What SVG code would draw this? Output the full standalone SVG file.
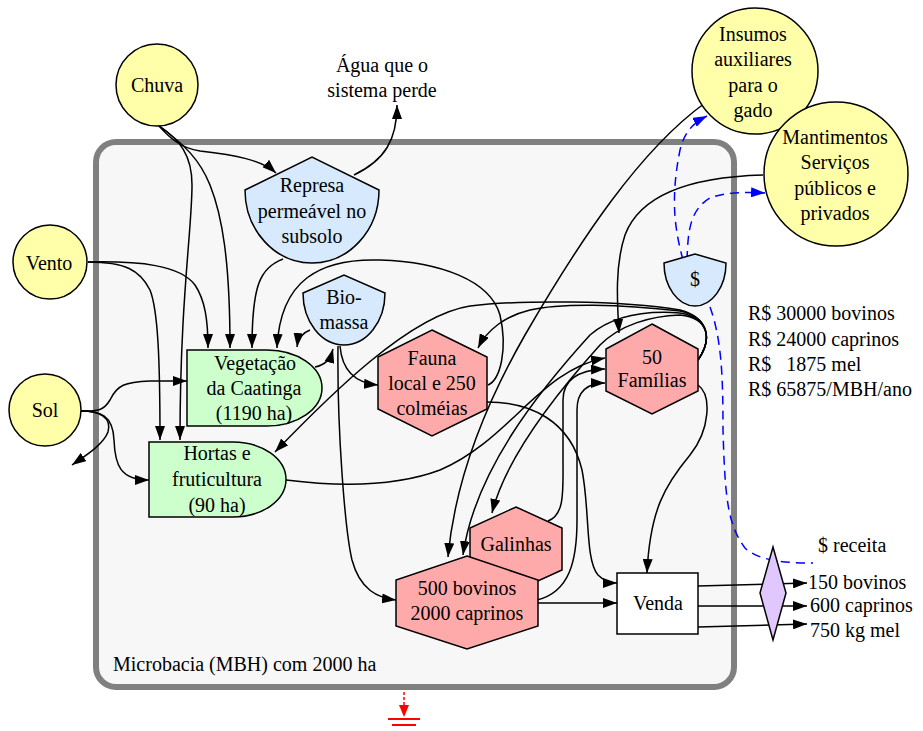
<svg xmlns="http://www.w3.org/2000/svg" width="923" height="731" viewBox="0 0 923 731">
<style>
text{font-family:"Liberation Serif","Times New Roman",serif;font-size:20px;fill:#000}
.c{text-anchor:middle}
.src{fill:#ffffaa;stroke:#000;stroke-width:1.5}
.sto{fill:#d6e9fd;stroke:#000;stroke-width:1.5}
.pro{fill:#ccffcc;stroke:#000;stroke-width:1.5}
.con{fill:#ffaaaa;stroke:#000;stroke-width:1.5}
.e{fill:none;stroke:#000;stroke-width:1.5;marker-end:url(#ah)}
.en{fill:none;stroke:#000;stroke-width:1.5}
.d{fill:none;stroke:#0000ff;stroke-width:1.5;stroke-dasharray:9,6}
</style>
<defs>
<marker id="ah" viewBox="0 0 14 10" refX="14" refY="5" markerWidth="14" markerHeight="10" orient="auto" markerUnits="userSpaceOnUse"><path d="M0,0 L14,5 L0,10 Z" fill="#000"/></marker>
<marker id="ab" viewBox="0 0 14 10" refX="14" refY="5" markerWidth="14" markerHeight="10" orient="auto" markerUnits="userSpaceOnUse"><path d="M0,0 L14,5 L0,10 Z" fill="#0000ff"/></marker>
<marker id="ar" viewBox="0 0 12 10" refX="12" refY="5" markerWidth="12" markerHeight="10" orient="auto" markerUnits="userSpaceOnUse"><path d="M0,0 L12,5 L0,10 Z" fill="#ff0000"/></marker>
</defs>
<rect width="923" height="731" fill="#fff"/>
<g id="frame">
<rect x="96" y="142" width="638" height="545" rx="20" fill="#f7f7f7" stroke="#808080" stroke-width="6"/>
<text x="113" y="671">Microbacia (MBH) com 2000 ha</text>
</g>
<g id="connectors">
<path class="e" d="M158,125 C170,138 180,148 200,151 C235,155 262,160 276,173"/>
<path class="e" d="M158,125 C185,145 200,160 210,185 C222,215 230,260 230,348"/>
<path class="e" d="M158,125 C180,140 192,155 192,185 C192,230 180,300 180,440"/>
<path class="e" d="M88,262 C140,261 180,265 195,285 C205,300 208,320 208,348"/>
<path class="e" d="M88,262 C125,262 140,270 150,290 C158,310 160,360 160,440"/>
<path class="e" d="M81,411 C95,411 103,412 110,400 C117,385 125,382 150,381 L187,381"/>
<path class="e" d="M81,411 C100,411 113,415 114,440 C115,465 120,480 149,480"/>
<path class="e" d="M81,411 C100,411 112,418 108,432 C103,445 85,456 72,465"/>
<path class="e" d="M354,175 C385,160 397,140 397,105"/>
<path class="e" d="M283,259 C260,268 252,285 252,348"/>
<path class="e" d="M310,330 C302,333 298,338 297,347"/>
<path class="e" d="M315,367 C325,365 330,360 333,349"/>
<path class="e" d="M340,346 C342,370 355,383 378,385"/>
<path class="e" d="M338,346 C337,430 345,530 352,560 C360,590 378,598 396,600"/>
<path class="e" d="M488,385 C500,380 508,350 500,315 C490,280 440,262 380,260 C320,258 280,280 277,348"/>
<path class="e" d="M487,402 C530,402 570,420 582,470 C590,510 585,560 598,575 C605,582 612,583 617,583"/>
<path class="e" d="M286,480 C350,488 400,485 440,470 C510,440 540,370 605,358"/>
<path class="e" d="M548,521 C565,515 563,490 563,460 L563,400 C563,378 580,370 605,369"/>
<path class="e" d="M537,600 C570,592 577,560 577,520 L577,410 C577,390 588,383 605,383"/>
<path class="e" d="M538,603 L617,603"/>
<path class="e" d="M698,385 C712,395 710,430 690,455 C665,485 650,510 647,573"/>
<path class="e" d="M698,360 C712,340 710,318 680,310 C620,300 520,300 470,306 C410,315 330,395 275,452"/>
<path class="e" d="M698,360 C712,340 710,318 680,311 C620,304 560,303 530,310 C505,316 487,330 478,348"/>
<path class="e" d="M698,360 C712,340 710,318 680,313 C640,310 610,318 590,335 C540,390 475,470 463,555"/>
<path class="e" d="M698,360 C712,340 710,318 680,315 C650,316 620,325 600,345 C555,395 505,460 492,513"/>
<path class="e" d="M705,103 C640,150 580,240 525,335 C485,405 455,480 448,557"/>
<path class="e" d="M763,175 C690,177 640,195 625,235 C615,265 617,300 619,333"/>
<path class="d" marker-end="url(#ab)" d="M683,260 C675,230 670,200 680,150 C685,130 695,122 707,116"/>
<path class="d" marker-end="url(#ab)" d="M687,260 C688,230 690,210 710,198 C725,192 745,192 765,193"/>
<path class="d" d="M710,307 C722,340 723,380 723,430 C725,500 728,525 745,548 C760,562 790,563 813,563"/>
<path class="e" d="M698,586 L807,583"/>
<path class="e" d="M698,606 L807,606"/>
<path class="e" d="M698,627 L807,624"/>
<path fill="none" stroke="#ff0000" stroke-width="1.5" stroke-dasharray="3,2" marker-end="url(#ar)" d="M404,692 L404,717"/>
</g>
<g id="sink">
<path d="M388,719 L420,719 M392,725 L416,725" stroke="#ff0000" stroke-width="2"/>
</g>
<g id="chuva"><circle class="src" cx="157" cy="85" r="41"/><text class="c" x="157" y="92">Chuva</text></g>
<g id="vento"><circle class="src" cx="50" cy="262" r="37"/><text class="c" x="49" y="270">Vento</text></g>
<g id="sol"><circle class="src" cx="45" cy="410" r="36"/><text class="c" x="45" y="417">Sol</text></g>
<g id="insumos"><circle class="src" cx="755" cy="71" r="63"/>
<text class="c" x="753" y="41">Insumos</text><text class="c" x="753" y="66">auxiliares</text><text class="c" x="753" y="92">para o</text><text class="c" x="753" y="117">gado</text></g>
<g id="mantimentos"><circle class="src" cx="836" cy="174" r="72"/>
<text class="c" x="835" y="144">Mantimentos</text><text class="c" x="835" y="169">Serviços</text><text class="c" x="835" y="195">públicos e</text><text class="c" x="835" y="220">privados</text></g>
<g id="agua"><text class="c" x="382" y="72">Água que o</text><text class="c" x="382" y="97">sistema perde</text></g>
<g id="represa"><path class="sto" d="M245,190 L312,157 L379,190 A67,73 0 0 1 245,190 Z"/>
<text class="c" x="312" y="192">Represa</text><text class="c" x="312" y="218">permeável no</text><text class="c" x="312" y="243">subsolo</text></g>
<g id="biomassa"><path class="sto" d="M303,293 L344,275 L385,293 A41,52 0 0 1 303,293 Z"/>
<text class="c" x="344" y="304">Bio-</text><text class="c" x="344" y="329">massa</text></g>
<g id="dinheiro"><path class="sto" d="M664,263 L695,254 L726,263 A31,43 0 0 1 664,263 Z"/>
<text class="c" x="695" y="286">$</text></g>
<g id="vegetacao"><path class="pro" d="M187,350 L267,350 A55,38 0 0 1 267,426 L187,426 Z"/>
<text class="c" x="255" y="370">Vegetação</text><text class="c" x="254" y="395">da Caatinga</text><text class="c" x="254" y="420">(1190 ha)</text></g>
<g id="hortas"><path class="pro" d="M149,442 L233,442 A53,37.5 0 0 1 233,517 L149,517 Z"/>
<text class="c" x="217" y="460">Hortas e</text><text class="c" x="217" y="486">fruticultura</text><text class="c" x="217" y="512">(90 ha)</text></g>
<g id="fauna"><polygon class="con" points="432,330 487,357 487,409 432,436 378,409 378,357"/>
<text class="c" x="432" y="365">Fauna</text><text class="c" x="432" y="390">local e 250</text><text class="c" x="432" y="415">colméias</text></g>
<g id="familias"><polygon class="con" points="652,324 698,349 698,391 652,414 606,391 606,349"/>
<text class="c" x="652" y="364">50</text><text class="c" x="652" y="387">Famílias</text></g>
<g id="galinhas"><polygon class="con" points="516,507 562,528 562,570 516,591 470,570 470,528"/>
<text class="c" x="516" y="551">Galinhas</text></g>
<g id="bovinos"><polygon class="con" points="467,556 538,580 538,626 467,649 396,626 396,580"/>
<text class="c" x="467" y="595">500 bovinos</text><text class="c" x="467" y="620">2000 caprinos</text></g>
<g id="venda"><rect x="617" y="573" width="81" height="61" fill="#fff" stroke="#000" stroke-width="1.5"/>
<text class="c" x="658" y="610">Venda</text></g>
<g id="mercado"><polygon points="773,547 786,593 773,640 760,593" fill="#e0c8ff" stroke="#000" stroke-width="1.5"/></g>
<g id="labels">
<text x="748" y="320">R$ 30000 bovinos</text>
<text x="748" y="346">R$ 24000 caprinos</text>
<text x="748" y="371" style="white-space:pre">R$   1875 mel</text>
<text x="748" y="396">R$ 65875/MBH/ano</text>
<text x="818" y="552">$ receita</text>
<text x="808" y="589">150 bovinos</text>
<text x="810" y="612">600 caprinos</text>
<text x="810" y="637">750 kg mel</text>
</g>
</svg>
